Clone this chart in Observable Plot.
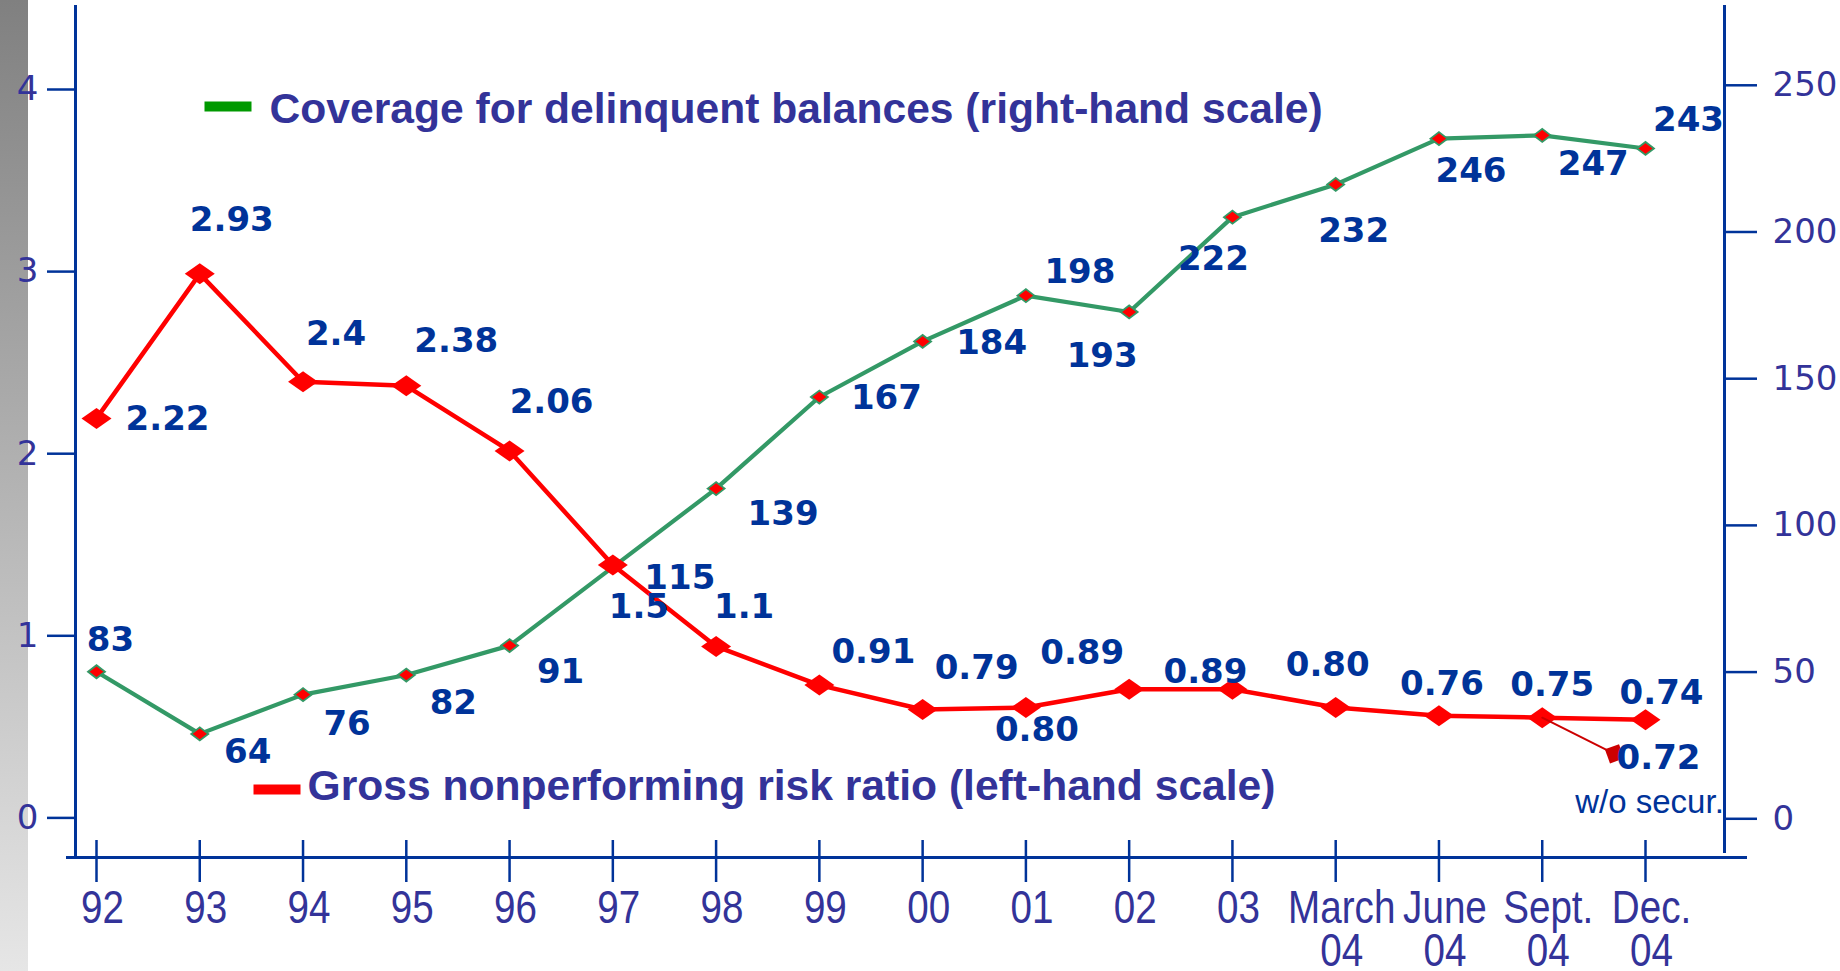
<!DOCTYPE html>
<html><head><meta charset="utf-8">
<script src="https://cdn.jsdelivr.net/npm/d3@7"></script>
<script src="https://cdn.jsdelivr.net/npm/@observablehq/plot@0.6"></script>
<style>
html,body{margin:0;padding:0;background:#fff;}
#wrap{position:relative;width:1840px;height:971px;overflow:hidden;}
#strip{position:absolute;left:0;top:0;width:28px;height:971px;background:linear-gradient(#808080,#e6e6e6);}
#chart{position:absolute;left:0;top:0;}
</style></head><body>
<div id="wrap"><div id="strip"></div><div id="chart"></div></div>
<script>
// ---- data ----
const periods = ["92","93","94","95","96","97","98","99","00","01","02","03","March\n04","June\n04","Sept.\n04","Dec.\n04"];
const riskRatio = [2.22,2.93,2.4,2.38,2.06,1.5,1.1,0.91,0.79,0.80,0.89,0.89,0.80,0.76,0.75,0.74];
const riskLabels = ["2.22","2.93","2.4","2.38","2.06","1.5","1.1","0.91","0.79","0.80","0.89","0.89","0.80","0.76","0.75","0.74"];
const coverage = [83,64,76,82,91,115,139,167,184,198,193,222,232,246,247,243];
const leftTicks = [0,1,2,3,4];
const rightTicks = [0,50,100,150,200,250];
const riskWithoutSecur = {value: 0.72, label: "0.72", note: "w/o secur."};
const legendCoverage = "Coverage for delinquent balances (right-hand scale)";
const legendRisk = "Gross nonperforming risk ratio (left-hand scale)";

// ---- how the original drew each series against the left-hand scale ----
const redY = v => -0.2883 + 1.1181 * v;
const greenY = v => -0.6881 + 0.017960 * v;
const rightY = t => -0.0049 + 0.016112 * t;
const rightInv = y => Math.round((y + 0.0049) / 0.016112);

// ---- label placement (style) ----
const redOff = [[71,1],[32,-54],[33,-48],[50,-45],[42,-49],[26,42],[28,-39],[54,-33],[54,-41],[11,23],[-47,-36],[-27,-17],[-8,-42],[3,-32],[10,-33],[16,-27]];
const greenOff = [[14,-32],[48,18],[44,29],[47,28],[51,27],[67,11],[67,26],[67,1],[69,2],[54,-24],[-27,44],[-19,42],[18,47],[32,32],[51,29],[43,-28]];

const blue = "#003399", purple = "#333399";
const idx = d3.range(periods.length);
const redData = idx.map(i => ({i, v: riskRatio[i], label: riskLabels[i]}));
const greenData = idx.map(i => ({i, v: coverage[i]}));

const wideDiamond = (hw, hh) => ({draw(ctx){ctx.moveTo(-hw,0);ctx.lineTo(0,-hh);ctx.lineTo(hw,0);ctx.lineTo(0,hh);ctx.closePath();}});
const bar = (w, h) => ({draw(ctx){ctx.rect(-w/2,-h/2,w,h);}});

const labelFont = {fontFamily: "DejaVu Sans", fontWeight: "bold", fontSize: 34, fill: blue};

const annX = 14.70, annDrop = 0.165;
const annPt = {x: annX, y: redY(riskWithoutSecur.value) - annDrop};

const marks = [
  Plot.frame({anchor: "left", stroke: blue, strokeWidth: 3}),
  Plot.frame({anchor: "right", stroke: blue, strokeWidth: 3, insetBottom: 6}),
  Plot.frame({anchor: "bottom", stroke: blue, strokeWidth: 3, insetLeft: -8, insetRight: -21}),
  Plot.axisX({ticks: idx, tickSize: 42, dy: -17, tickFormat: () => "", stroke: blue, strokeWidth: 2.5, label: null}),
  Plot.axisX({ticks: idx, tickSize: 0, tickPadding: 35, dx: 6, tickFormat: i => periods[i], fontSize: 46,
    fontFamily: "Liberation Sans", fill: purple, lineHeight: 0.94, label: null}),
  Plot.axisY({anchor: "left", ticks: leftTicks, tickFormat: d => String(d), tickSize: 28, tickPadding: 9, fontSize: 34,
    fontFamily: "DejaVu Sans", fill: purple, stroke: blue, strokeWidth: 2.5, label: null}),
  Plot.axisY({anchor: "right", ticks: rightTicks.map(rightY), tickFormat: d => String(rightInv(d)), tickSize: 32, tickPadding: 16,
    fontSize: 34, fontFamily: "DejaVu Sans", fill: purple, stroke: blue, strokeWidth: 2.5, label: null}),
  // green series
  Plot.line(greenData, {x: "i", y: d => greenY(d.v), stroke: "#339966", strokeWidth: 4.2}),
  Plot.dot(greenData, {x: "i", y: d => greenY(d.v), symbol: wideDiamond(8.5, 6.5), r: 5, fill: "#ff0000", stroke: "#339966", strokeWidth: 1.8}),
  // red series
  Plot.line(redData, {x: "i", y: d => redY(d.v), stroke: "#ff0000", strokeWidth: 4.5}),
  Plot.dot(redData, {x: "i", y: d => redY(d.v), symbol: wideDiamond(15, 10.5), r: 8, fill: "#ff0000"}),
  // w/o securitisation annotation
  Plot.line([{x: 14, y: redY(riskRatio[14])}, annPt], {x: "x", y: "y", stroke: "#cc0000", strokeWidth: 2}),
  Plot.dot([annPt], {x: "x", y: "y", symbol: "square", r: 8.5, rotate: -20, fill: "#cc0000"}),
  Plot.text([annPt], {x: "x", y: "y", text: () => riskWithoutSecur.label, dx: 44, dy: 4, ...labelFont}),
  Plot.text([annPt], {x: "x", y: "y", text: () => riskWithoutSecur.note, dx: 35, dy: 49, fontFamily: "Liberation Sans", fontSize: 33, fill: blue}),
  // value labels
  ...redData.map((d, k) => Plot.text([d], {x: "i", y: e => redY(e.v), text: "label", dx: redOff[k][0], dy: redOff[k][1], ...labelFont})),
  ...greenData.map((d, k) => Plot.text([d], {x: "i", y: e => greenY(e.v), text: e => String(e.v), dx: greenOff[k][0], dy: greenOff[k][1], ...labelFont})),
  // legends
  Plot.dot([0], {frameAnchor: "top-left", dx: 152.5, dy: 100, symbol: bar(47, 10), r: 5, fill: "#009900"}),
  Plot.text([legendCoverage], {frameAnchor: "top-left", text: d => d, textAnchor: "start", lineAnchor: "middle", dx: 194, dy: 103,
    fontFamily: "Liberation Sans", fontWeight: "bold", fontSize: 42.6, fill: purple}),
  Plot.dot([0], {frameAnchor: "top-left", dx: 201.5, dy: 783, symbol: bar(47, 10), r: 5, fill: "#ff0000"}),
  Plot.text([legendRisk], {frameAnchor: "top-left", text: d => d, textAnchor: "start", lineAnchor: "middle", dx: 232, dy: 780,
    fontFamily: "Liberation Sans", fontWeight: "bold", fontSize: 42.6, fill: purple})
];

const chart = Plot.plot({
  width: 1840, height: 971,
  marginLeft: 75, marginRight: 116, marginTop: 6, marginBottom: 114,
  style: {background: "transparent", overflow: "visible"},
  x: {type: "linear", domain: [0, 15], range: [96, 1645]},
  y: {type: "linear", domain: [-0.2175, 4.4558]},
  marks
});
document.getElementById("chart").appendChild(chart);

// the original's period labels are set in a narrow face: condense them horizontally
d3.select(chart).selectAll("g[aria-label]").filter(function() {
  const a = this.getAttribute("aria-label");
  return a.includes("x-axis") && a.includes("label");
}).selectAll("text").each(function() {
  const t = this.getAttribute("transform") || "";
  this.setAttribute("transform", t + " scale(0.84,1)");
});
</script>
</body></html>
